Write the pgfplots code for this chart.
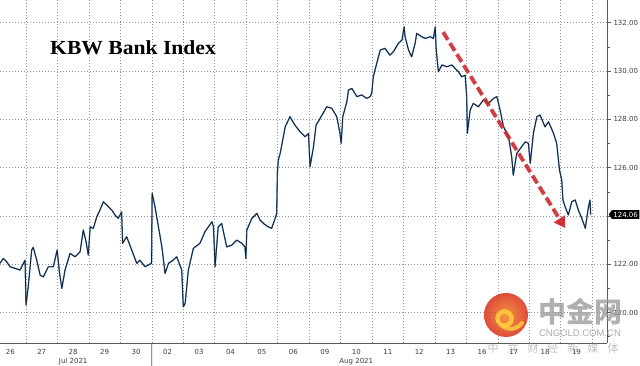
\documentclass[border=0pt]{standalone}
\usepackage{pgfplots}
\pgfplotsset{compat=1.18}
\usepackage{fontspec}
\setmainfont{DejaVu Sans}
\newfontfamily\titlefont{Liberation Serif}
\newfontfamily\tickfont{DejaVu Sans}
\newfontfamily\wmfont{Liberation Sans}
\newfontfamily\cjk{Noto Sans CJK SC}
\usetikzlibrary{shapes.symbols,arrows.meta}
\definecolor{lineblue}{RGB}{70,130,190}
\definecolor{linedark}{RGB}{25,30,40}
\definecolor{gridgray}{RGB}{150,150,150}
\definecolor{axisgray}{RGB}{90,90,90}
\definecolor{labelgray}{RGB}{60,60,60}
\definecolor{arrowred}{RGB}{205,40,50}
\definecolor{wmgray}{RGB}{150,150,150}
\definecolor{logored}{RGB}{215,45,25}
\definecolor{logoorange}{RGB}{245,130,30}
\definecolor{logoyellow}{RGB}{255,205,60}
\pgfplotstableread{
t v
0.17 122.04
0.28 122.24
0.39 122.10
0.49 121.90
0.65 121.83
0.81 121.76
0.97 122.17
1.00 120.31
1.07 121.07
1.18 122.59
1.23 122.70
1.34 122.17
1.45 121.55
1.55 121.48
1.71 121.90
1.87 121.90
1.99 122.59
2.06 121.69
2.14 121.00
2.24 121.76
2.40 122.45
2.56 122.31
2.72 122.52
2.82 123.42
2.91 122.93
2.98 122.38
3.04 123.55
3.14 123.49
3.25 123.97
3.35 124.24
3.46 124.59
3.57 124.45
3.73 124.24
3.83 124.04
3.93 123.90
4.04 124.17
4.07 122.87
4.20 123.14
4.36 122.59
4.52 122.04
4.62 122.17
4.78 121.90
4.99 122.04
5.01 124.94
5.10 124.38
5.21 123.55
5.32 122.72
5.42 121.62
5.53 122.04
5.68 122.17
5.79 122.31
5.95 121.76
6.00 120.24
6.06 120.38
6.16 121.76
6.32 122.66
6.53 122.87
6.69 123.35
6.91 123.76
6.96 123.55
7.01 121.90
7.11 123.55
7.22 123.69
7.38 122.72
7.54 122.79
7.70 123.00
7.86 122.87
7.96 122.72
7.99 122.24
8.02 123.42
8.18 123.90
8.34 124.11
8.44 123.83
8.55 123.69
8.70 123.55
8.81 123.49
8.92 123.90
8.97 124.11
8.99 125.76
9.02 126.31
9.08 126.59
9.24 127.69
9.39 128.11
9.55 127.76
9.71 127.49
9.87 127.28
9.98 127.42
10.03 126.04
10.14 126.87
10.22 127.76
10.35 128.04
10.56 128.52
10.72 128.46
10.88 128.11
10.98 127.42
11.02 127.01
11.07 128.11
11.20 128.73
11.25 129.21
11.36 129.28
11.52 128.94
11.67 129.01
11.83 128.87
11.94 128.94
11.99 129.08
12.04 129.76
12.15 130.32
12.26 130.87
12.41 130.94
12.57 130.66
12.68 130.80
12.84 131.15
12.95 131.28
13.02 131.83
13.05 131.42
13.16 130.87
13.26 130.59
13.37 131.15
13.42 131.56
13.58 131.42
13.69 131.35
13.85 131.42
13.95 131.35
14.01 131.83
14.04 130.87
14.11 129.97
14.22 130.25
14.38 130.18
14.54 130.25
14.64 130.11
14.75 129.97
14.85 129.76
14.96 129.83
15.01 128.94
15.03 127.42
15.12 128.39
15.22 128.66
15.38 128.52
15.54 128.80
15.70 128.66
15.86 128.87
15.97 128.94
16.07 128.39
16.18 127.69
16.34 127.28
16.44 126.45
16.49 125.69
16.60 126.59
16.76 126.87
16.87 127.07
16.97 127.01
17.03 126.18
17.13 127.42
17.24 128.11
17.34 128.18
17.50 127.69
17.61 127.90
17.77 127.42
17.87 127.01
17.96 125.90
18.03 125.49
18.07 124.66
18.14 124.38
18.24 124.04
18.35 124.59
18.46 124.66
18.56 124.24
18.67 123.90
18.78 123.49
18.88 124.38
18.93 124.66
18.95 124.06
}\kbw
\begin{document}
\begin{tikzpicture}[x=1pt,y=1pt]
\useasboundingbox (0,-23) rectangle (640,343);
\begin{axis}[
  at={(0,0)}, anchor=south west,
  scale only axis, width=607pt, height=343pt,
  xmin=0.173, xmax=19.47, ymin=118.74, ymax=132.94,
  axis x line*=bottom, axis y line*=right,
  axis line style={axisgray, line width=0.8pt},
  xtick={0.5,1.5,...,18.5},
  xticklabels={26,27,28,29,30,02,03,04,05,06,09,10,11,12,13,16,17,18,19},
  minor xtick={1,2,...,19},
  x tick style={draw=none},
  xminorgrids=true, xmajorgrids=false,
  ytick={120,122,124,126,128,130,132},
  yticklabels={120.00,122.00,,126.00,128.00,130.00,132.00},
  minor ytick={119,121,123,125,127,129,131},
  ymajorgrids=true,
  y tick style={axisgray, line width=0.6pt},
  tick align=outside,
  major tick length=4pt, minor tick length=2.5pt,
  grid style={gridgray, line width=0.65pt, dash pattern=on 1pt off 2pt},
  minor grid style={gridgray, line width=0.65pt, dash pattern=on 1pt off 2pt},
  ticklabel style={font=\tickfont\fontsize{7}{8}\selectfont, text=labelgray},
  xticklabel style={yshift=1pt},
  yticklabel style={xshift=-1pt},
  clip=false,
]
\addplot[lineblue, line width=1.4pt, line join=round] table[x=t, y=v] {\kbw};
\addplot[linedark, line width=0.75pt, line join=round] table[x=t, y=v] {\kbw};
% red dashed trend arrow
\draw[arrowred, line width=3.8pt, dash pattern=on 9pt off 4pt, opacity=0.9,
      -{Triangle[length=11pt,width=13pt]}]
  (axis cs:14.26,131.61) -- (axis cs:18.14,123.50);
% last value tag
\node[signal, signal to=west, signal pointer angle=110, fill=black, text=white,
      inner xsep=1.5pt, inner ysep=1.8pt, anchor=west,
      font=\tickfont\fontsize{7}{8}\selectfont]
  at ([xshift=1.5pt]axis cs:19.47,124.06) {124.06};
% month labels and separator
\node[font=\tickfont\fontsize{7}{8}\selectfont, text=labelgray, anchor=base]
  at ([yshift=-20.5pt]axis cs:2.5,118.74) {Jul 2021};
\node[font=\tickfont\fontsize{7}{8}\selectfont, text=labelgray, anchor=base]
  at ([yshift=-20.5pt]axis cs:11.5,118.74) {Aug 2021};
\draw[axisgray, line width=0.8pt] (axis cs:5,118.74) -- ++(0,-23pt);
\end{axis}
% title
\node[anchor=base west, font=\titlefont\bfseries\fontsize{20}{24}\selectfont, xscale=1.08, inner sep=0pt]
  at (50,288.7) {KBW Bank Index};
% watermark
\begin{scope}[opacity=0.85]
\shade[inner color=logoorange, outer color=logored] (506,28) circle (22);
\draw[logoyellow, line width=4.5pt, line cap=round]
  (498,22) arc[start angle=200, end angle=-120, radius=7];
\draw[logoyellow, line width=4pt, line cap=round]
  (498,22) .. controls (504,12) and (516,12) .. (522,20);
\end{scope}
\node[font=\cjk\bfseries\fontsize{28}{30}\selectfont, text=wmgray, opacity=0.75, anchor=center]
  at (580,31) {中金网};
\node[font=\wmfont\fontsize{9.5}{10}\selectfont, text=wmgray, opacity=0.8, anchor=center]
  at (580,10) {CNGOLD.COM.CN};
\node[font=\cjk\fontsize{11}{12}\selectfont, text=wmgray, opacity=0.6, anchor=center]
  at (553,-5) {中\hspace{9pt}文\hspace{9pt}财\hspace{9pt}经\hspace{9pt}新\hspace{9pt}媒\hspace{9pt}体};
\end{tikzpicture}
\end{document}
